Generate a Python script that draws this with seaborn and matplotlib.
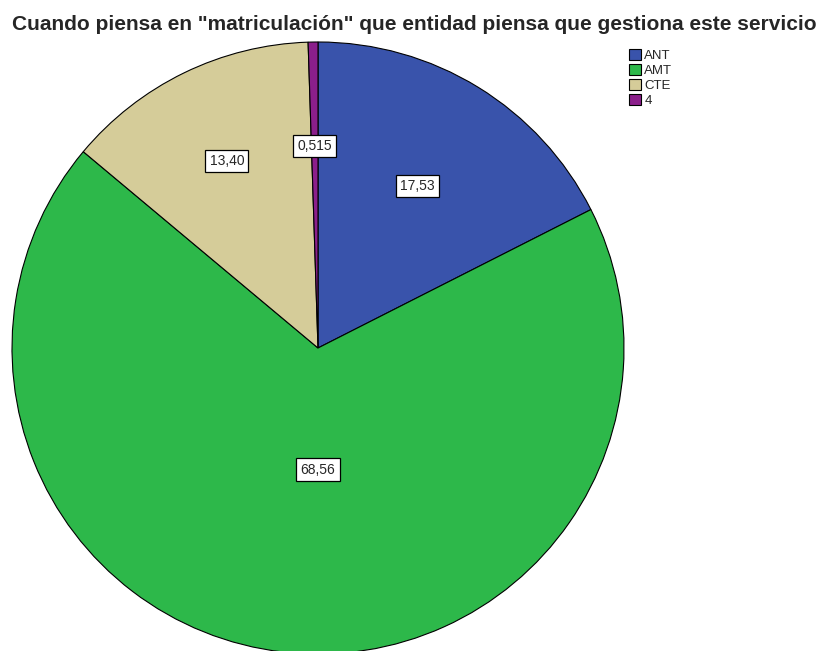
import numpy as np
import matplotlib
matplotlib.use("Agg")
import matplotlib.pyplot as plt
import seaborn as sns

# data
categories = ['ANT', 'AMT', 'CTE', '4']
percentages = [17.53, 68.56, 13.40, 0.515]
value_labels = ['17,53', '68,56', '13,40', '0,515']
colors = ['#3953AB', '#2DB84A', '#D5CC99', '#8B1F8B']

# radial position of each value label (fraction of radius)
label_radius = [0.62, 0.40, 0.68, 0.66]

sns.set_style("white")
plt.rcParams['font.family'] = ['Liberation Sans', 'DejaVu Sans']

fig = plt.figure(figsize=(8.28, 6.51), dpi=100)
ax = fig.add_axes([12 / 828, -3 / 651, 612 / 828, 612 / 651])

wedges, _ = ax.pie(percentages, colors=colors, startangle=90, counterclock=False,
                   wedgeprops=dict(edgecolor='black', linewidth=0.8))
ax.set_xlim(-1, 1)
ax.set_ylim(-1, 1)
ax.set_aspect('equal')
ax.axis('off')

for w, lab, r in zip(wedges, value_labels, label_radius):
    ang = np.deg2rad((w.theta1 + w.theta2) / 2)
    x, y = r * np.cos(ang), r * np.sin(ang)
    if lab == '68,56':
        x = 0.0  # big slice label sits straight below centre
    ax.text(x, y, lab, ha='center', va='center',
            fontsize=10, bbox=dict(boxstyle='square,pad=0.3', fc='white', ec='black', lw=0.9))

fig.text(0.5, 1 - 25 / 651, 'Cuando piensa en "matriculación" que entidad piensa que gestiona este servicio',
         ha='center', va='center', fontsize=15, fontweight='bold')

leg = fig.legend(wedges, categories, loc='upper left', bbox_to_anchor=(622 / 828, 1 - 42 / 651),
                 frameon=False, fontsize=9.5, handlelength=0.95, handleheight=0.9,
                 handletextpad=0.25, labelspacing=0.15, borderpad=0)
for h in leg.legend_handles:
    h.set_linewidth(0.8)

fig.savefig('out.png', dpi=100)
